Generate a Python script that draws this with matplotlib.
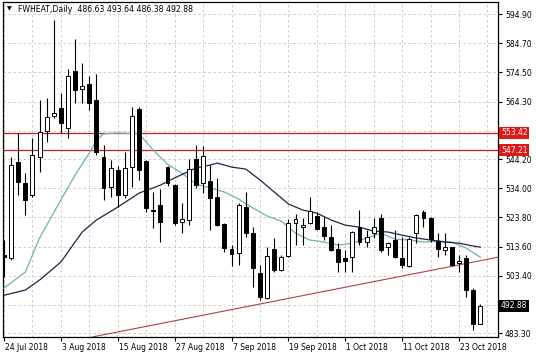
import matplotlib
matplotlib.use("Agg")
import matplotlib.pyplot as plt
import matplotlib.transforms as mtransforms

# daily candles, bar index 0 = 24 Jul 2018
opens = [510.6, 509.6, 543.2, 535.8, 531.6, 544.9, 554.0, 559.2, 562.0, 555.0,
         575.0, 568.7, 570.4, 564.8, 544.9, 534.4, 540.4, 531.6, 541.4, 561.7,
         543.5, 526.5, 528.1, 541.4, 535.1, 522.2, 522.9, 544.2, 535.8, 536.5,
         530.9, 521.5, 512.7, 511.3, 527.4, 518.3, 504.3, 495.6, 512.7, 505.4,
         510.3, 521.8, 520.4, 521.8, 524.3, 520.4, 517.0, 512.7, 509.6, 509.9,
         520.4, 515.2, 518.3, 523.6, 513.4, 515.9, 509.6, 506.8, 518.3, 525.7,
         523.6, 515.5, 512.4, 513.4, 507.8, 509.6, 498.4, 486.63]
highs = [515.9, 544.9, 553.3, 539.3, 551.5, 564.8, 565.5, 592.8, 567.3, 575.7,
         586.2, 577.8, 573.2, 573.9, 549.1, 543.9, 541.8, 546.6, 562.4, 562.4,
         543.8, 532.7, 533.7, 541.8, 535.5, 528.8, 544.2, 549.1, 548.8, 542.1,
         537.6, 521.8, 514.1, 528.8, 532.7, 520.4, 507.1, 513.4, 516.6, 510.6,
         523.2, 524.9, 523.6, 530.9, 525.7, 523.9, 521.1, 514.8, 512.4, 518.9,
         526.4, 519.4, 523.6, 524.9, 515.2, 519.4, 517.0, 517.0, 524.9, 526.4,
         523.9, 518.3, 518.3, 513.6, 510.6, 510.6, 499.1, 493.64]
lows = [502.9, 509.0, 531.6, 524.6, 531.0, 539.6, 550.1, 558.5, 553.3, 551.5,
        563.8, 563.8, 561.3, 545.6, 529.9, 530.9, 527.4, 530.6, 534.4, 536.9,
        525.7, 520.1, 515.2, 534.8, 521.1, 518.3, 521.1, 534.1, 532.3, 519.4,
        520.8, 511.7, 506.8, 507.1, 516.9, 499.4, 494.9, 495.2, 504.7, 505.2,
        510.0, 514.1, 514.1, 521.5, 519.4, 515.9, 512.0, 504.7, 504.7, 504.7,
        514.1, 513.4, 516.6, 511.7, 510.6, 509.6, 506.1, 506.4, 514.8, 520.4,
        515.2, 509.9, 510.6, 506.8, 504.7, 495.9, 484.4, 486.38]
closes = [509.8, 542.1, 536.2, 529.9, 545.6, 553.6, 558.9, 560.3, 556.8, 573.2,
          568.3, 569.7, 563.8, 546.6, 534.1, 541.1, 531.6, 541.1, 559.2, 540.4,
          527.1, 525.9, 522.2, 535.8, 521.8, 523.2, 540.7, 535.1, 545.2, 530.6,
          521.1, 513.1, 511.0, 528.1, 518.3, 506.1, 495.9, 510.3, 505.4, 509.9,
          521.8, 523.2, 521.1, 526.0, 519.7, 517.3, 512.4, 508.2, 508.5, 518.7,
          515.2, 517.0, 520.4, 512.4, 514.8, 509.9, 507.1, 516.2, 524.6, 523.6,
          516.2, 512.7, 513.4, 507.1, 508.5, 498.4, 486.6, 492.88]

# moving averages (bar index, price)
fast_ma_x = [0, 3, 5, 8, 10, 12, 13, 14, 16, 19, 21, 23, 25, 27, 29, 31, 33, 35,
             37, 39, 41, 43, 45, 47, 49, 51, 53, 55, 57, 59, 61, 63, 65, 67]
fast_ma_y = [499.1, 504.7, 516.6, 529.9, 538.6, 546.3, 550.8, 553.0, 553.3, 553.0,
             547.3, 542.4, 539.3, 535.5, 534.1, 532.7, 530.2, 527.1, 524.3, 522.5,
             518.3, 515.9, 515.2, 514.1, 514.8, 516.6, 518.3, 516.2, 515.9, 515.2,
             515.5, 515.2, 513.1, 509.9]
slow_ma_x = [0, 3, 5, 8, 11, 13, 16, 19, 22, 24, 27, 29, 30, 32, 34, 36, 38, 40,
             42, 44, 46, 48, 50, 52, 54, 56, 58, 60, 62, 64, 66, 67]
slow_ma_y = [496.6, 498.4, 501.9, 508.2, 518.7, 522.9, 527.4, 532.3, 535.1, 537.6,
             541.1, 542.1, 542.8, 541.4, 540.7, 536.9, 532.7, 528.5, 526.4, 525.3,
             522.9, 521.1, 520.4, 519.0, 518.7, 517.6, 516.6, 515.9, 515.2, 514.8,
             513.8, 513.4]

# drawn objects
levels = [553.42, 547.21]
trend_x = [12.4, 69.5]
trend_y = [482.0, 509.9]

date_pos = [0, 8, 16, 24, 32, 40, 48, 56, 64]
date_labels = ["24 Jul 2018", "3 Aug 2018", "15 Aug 2018", "27 Aug 2018", "7 Sep 2018",
               "19 Sep 2018", "1 Oct 2018", "11 Oct 2018", "23 Oct 2018"]
price_ticks = [594.90, 584.70, 574.50, 564.30, 554.10, 544.20, 534.00, 523.80,
               513.60, 503.40, 493.20, 483.30]
hidden_ticks = [554.10, 493.20]

plt.rcParams['font.family'] = ['DejaVu Sans']

fig = plt.figure(figsize=(5.36, 3.58), dpi=100)
ax = fig.add_axes([3 / 536, 21 / 358, 495 / 536, 335 / 358])
ax.set_xlim(-0.14, 69.48)
ax.set_ylim(482.0, 599.1)

# grid
ax.set_yticks(price_ticks)
ax.set_yticklabels(["" if p in hidden_ticks else f"{p:.2f}" for p in price_ticks])
ax.set_xticks(date_pos)
ax.set_xticklabels(date_labels)
ax.set_xticks(range(0, 70, 4), minor=True)
ax.grid(True, which='both', color='#c4c4c4', linestyle=(0, (3, 3)), linewidth=0.6)
ax.set_axisbelow(True)
ax.yaxis.tick_right()
ax.tick_params(axis='y', which='major', length=3, width=0.8, labelsize=5.5, pad=2)
ax.tick_params(axis='x', which='major', length=3, width=0.8, labelsize=5.5, pad=1.5)
ax.tick_params(axis='x', which='minor', length=0)
offset = mtransforms.ScaledTranslation(1 / 100, 0, fig.dpi_scale_trans)
for lab in ax.get_xticklabels():
    lab.set_horizontalalignment('left')
    lab.set_transform(lab.get_transform() + offset)

for s in ax.spines.values():
    s.set_color('black')
    s.set_linewidth(0.9)

# levels and trend line
for lv in levels:
    ax.axhline(lv, color='#b22222', linewidth=0.9, zorder=2)
ax.plot(trend_x, trend_y, color='#b04040', linewidth=0.8, zorder=2)

# moving averages
ax.plot(fast_ma_x, fast_ma_y, color='#6fb0b0', linewidth=0.9, zorder=3)
ax.plot(slow_ma_x, slow_ma_y, color='#1c2545', linewidth=0.9, zorder=3)

# candles
idx = list(range(len(closes)))
ax.vlines(idx, lows, highs, color='black', linewidth=0.8, zorder=4)
bottoms = [min(o, c) for o, c in zip(opens, closes)]
heights = [max(abs(c - o), 0.25) for o, c in zip(opens, closes)]
colors = ['white' if c >= o else 'black' for o, c in zip(opens, closes)]
ax.bar(idx, heights, bottom=bottoms, width=0.55, color=colors, edgecolor='black',
       linewidth=0.7, zorder=5)

# price boxes on the right axis
trans = mtransforms.blended_transform_factory(ax.transAxes, ax.transData)
for lv in levels:
    ax.text(1.006, lv, f"{lv:.2f}", transform=trans, ha='left', va='center',
            fontsize=5.5, color='white', clip_on=False,
            bbox=dict(boxstyle='square,pad=0.2', fc='#e01818', ec='none'))
ax.text(1.006, closes[-1], f"{closes[-1]:.2f}", transform=trans, ha='left', va='center',
        fontsize=5.5, color='white', clip_on=False,
        bbox=dict(boxstyle='square,pad=0.2', fc='black', ec='none'))

# header
ax.text(0.008, 0.988, "\u25bc", transform=ax.transAxes, ha='left', va='top', fontsize=4.5)
ax.text(0.03, 0.99, "FWHEAT,Daily  " + " ".join(f"{v:.2f}" for v in
        [opens[-1], highs[-1], lows[-1], closes[-1]]),
        transform=ax.transAxes, ha='left', va='top', fontsize=5.6)

fig.savefig("out.png", dpi=100)
